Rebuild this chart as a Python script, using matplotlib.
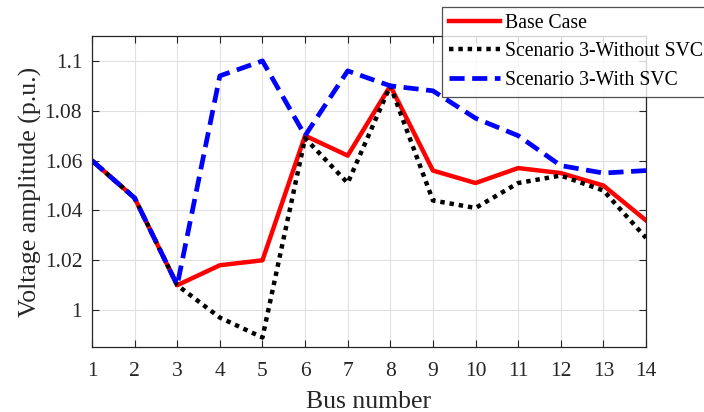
import matplotlib
matplotlib.use("Agg")
import matplotlib.pyplot as plt
import numpy as np

plt.rcParams['font.family'] = ['Liberation Serif', 'DejaVu Serif']

# bus voltages
bus = np.arange(1, 15)
base_case = [1.060, 1.045, 1.010, 1.018, 1.020, 1.070, 1.062, 1.090,
             1.056, 1.051, 1.057, 1.055, 1.050, 1.036]
without_svc = [1.060, 1.045, 1.010, 0.997, 0.989, 1.069, 1.051, 1.090,
               1.044, 1.041, 1.051, 1.054, 1.048, 1.029]
with_svc = [1.060, 1.045, 1.010, 1.094, 1.100, 1.070, 1.096, 1.090,
            1.088, 1.077, 1.070, 1.058, 1.055, 1.056]

fig = plt.figure(figsize=(7.04, 4.12), dpi=100)
ax = fig.add_axes([92/704, 1-347/412, (646-92)/704, (347-36)/412])

ax.plot(bus, base_case, color='red', lw=3.2, label='Base Case')
ax.plot(bus, without_svc, color='black', lw=3.2, linestyle=(0, (1, 1.1)),
        label='Scenario 3-Without SVC')
ax.plot(bus, with_svc, color='blue', lw=3.4, linestyle=(0, (3.2, 1.6)),
        label='Scenario 3-With SVC')

ax.set_xlim(1, 14)
ax.set_ylim(0.9852, 1.11)
ax.set_xticks(bus)
ax.set_yticks([1.0, 1.02, 1.04, 1.06, 1.08, 1.1])
ax.set_yticklabels(['1', '1.02', '1.04', '1.06', '1.08', '1.1'])
ax.grid(True, color='#e0e0e0', lw=0.8)
ax.set_axisbelow(True)
ax.tick_params(direction='in', top=True, right=True, length=5,
               labelsize=15.5, colors='#262626')
ax.tick_params(axis='x', pad=11)
ax.tick_params(axis='y', pad=7)
for s in ax.spines.values():
    s.set_color('#262626')
    s.set_linewidth(0.9)

ax.set_xlabel('Bus number', fontsize=18.5, color='#262626', labelpad=7)
ax.set_ylabel('Voltage amplitude (p.u.)', fontsize=18.5, color='#262626',
              labelpad=2)

leg = fig.legend(loc='upper left', bbox_to_anchor=(442/704, 1-7/412),
                 bbox_transform=fig.transFigure, fontsize=14.2,
                 frameon=True, fancybox=False, handlelength=2.6,
                 handletextpad=0.25, borderpad=0.33, labelspacing=0.5,
                 borderaxespad=0)
leg.get_frame().set_edgecolor('#262626')
leg.get_frame().set_linewidth(0.9)

fig.savefig('out.png', dpi=100)
